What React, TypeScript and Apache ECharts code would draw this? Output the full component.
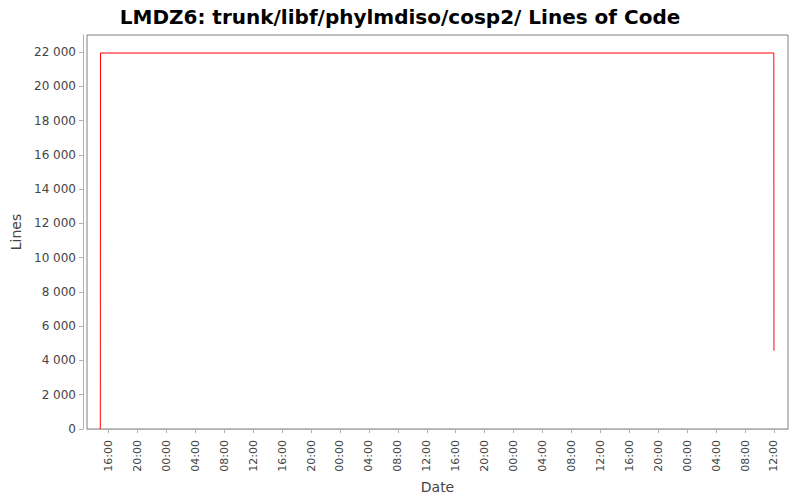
import React, { useEffect, useRef } from "react";
import * as echarts from "echarts";

// Hours elapsed since midnight of the first day shown
const pointHours: number[] = [14.87, 14.9, 107.98, 108.0];
const lineCounts: number[] = [0, 21950, 21950, 4570];
const tickHours: number[] = [
  16, 20, 24, 28, 32, 36, 40, 44, 48, 52, 56, 60, 64, 68, 72, 76, 80, 84, 88, 92, 96, 100, 104, 108,
];
const yTicks: number[] = [0, 2000, 4000, 6000, 8000, 10000, 12000, 14000, 16000, 18000, 20000, 22000];

const FONT = "DejaVu Sans";

const fmtHour = (h: number) => {
  const hh = ((Math.round(h) % 24) + 24) % 24;
  return (hh < 10 ? "0" : "") + hh + ":00";
};
const fmtThousands = (v: number) => String(v).replace(/\B(?=(\d{3})+(?!\d))/g, " ");

export default function App() {
  const ref = useRef<HTMLDivElement>(null);
  useEffect(() => {
    if (!ref.current) return;
    const chart = echarts.init(ref.current, undefined, { renderer: "svg" });
    chart.setOption({
      animation: false,
      backgroundColor: "#ffffff",
      title: {
        text: "LMDZ6: trunk/libf/phylmdiso/cosp2/ Lines of Code",
        left: "center",
        top: 2,
        textStyle: { fontFamily: FONT, fontSize: 20, fontWeight: "bold", color: "#000" },
      },
      grid: {
        left: 87,
        right: 12,
        top: 35,
        bottom: 71,
        show: true,
        borderColor: "#808080",
        borderWidth: 1,
        backgroundColor: "#ffffff",
      },
      xAxis: {
        type: "value",
        min: 13.03,
        max: 109.94,
        offset: 4,
        name: "Date",
        nameLocation: "middle",
        nameGap: 45,
        nameTextStyle: { fontFamily: FONT, fontSize: 14, color: "#444" },
        axisLine: { show: true, lineStyle: { color: "#b0b0b0" } },
        axisTick: { show: true, length: 4, lineStyle: { color: "#b0b0b0" }, customValues: tickHours },
        axisLabel: {
          rotate: 90,
          fontFamily: FONT,
          fontSize: 11,
          color: "#444",
          margin: 7,
          customValues: tickHours,
          formatter: (v: number) => fmtHour(v),
        },
        splitLine: { show: false },
      },
      yAxis: {
        type: "value",
        min: 0,
        max: 23000,
        offset: 4,
        name: "Lines",
        nameLocation: "middle",
        nameGap: 52,
        nameTextStyle: { fontFamily: FONT, fontSize: 14, color: "#444" },
        axisLine: { show: true, lineStyle: { color: "#b0b0b0" } },
        axisTick: { show: true, length: 4, lineStyle: { color: "#b0b0b0" }, customValues: yTicks },
        axisLabel: {
          fontFamily: FONT,
          fontSize: 12,
          color: "#444",
          margin: 7,
          customValues: yTicks,
          formatter: (v: number) => fmtThousands(v),
        },
        splitLine: { show: false },
      },
      series: [
        {
          type: "line",
          data: pointHours.map((h, i) => [h, lineCounts[i]]),
          showSymbol: false,
          symbol: "none",
          lineStyle: { color: "#ff0000", width: 1 },
          clip: true,
        },
      ],
    });
    return () => chart.dispose();
  }, []);
  return <div ref={ref} style={{ width: 800, height: 500, margin: -8 }} />;
}
